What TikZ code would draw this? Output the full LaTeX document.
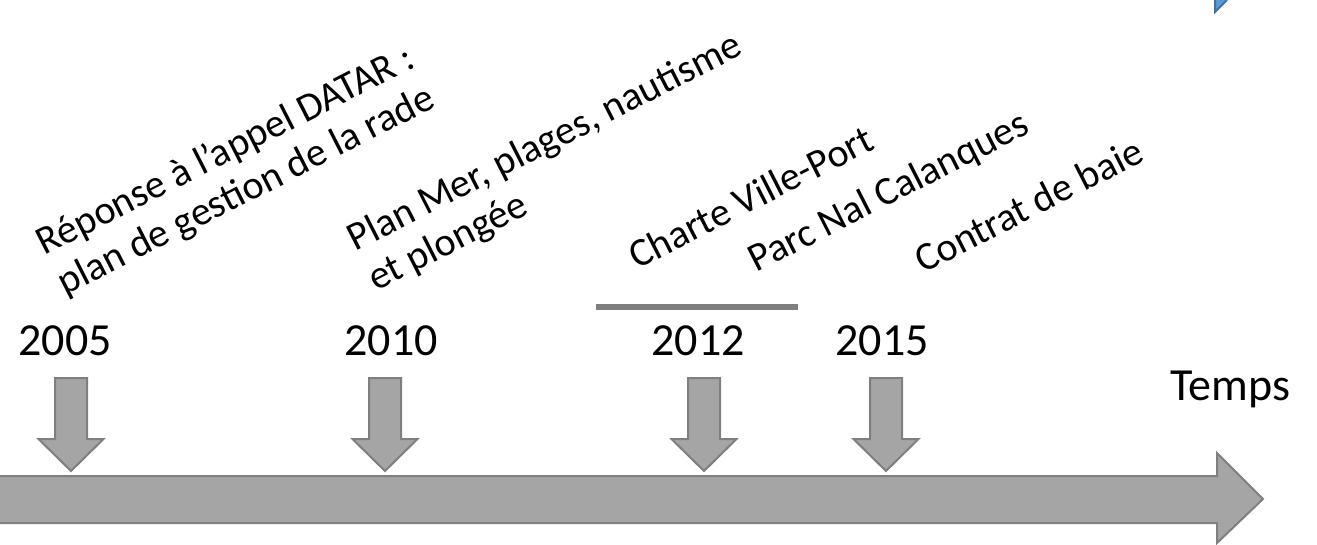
\documentclass[tikz,border=0pt]{standalone}
\usepackage{fontspec}
\setmainfont{Carlito}

\definecolor{arrowgray}{HTML}{A5A5A5}
\definecolor{edgegray}{HTML}{7F7F7F}
\definecolor{shapeblue}{HTML}{5B9BD5}
\definecolor{edgeblue}{HTML}{41719C}

\tikzset{
  year/.style={font=\fontsize{23}{27}\selectfont, anchor=base, inner sep=0pt},
  event/.style={font=\fontsize{20}{22.5}\selectfont, rotate=27, anchor=base west, inner sep=0pt, align=left},
  blockarrow/.style={fill=arrowgray, draw=edgegray, line width=1pt, line join=miter},
}

\begin{document}
\begin{tikzpicture}[x=0.5pt,y=0.5pt]
\useasboundingbox (0,0) rectangle (1317,-545);
% time axis
\draw[blockarrow] (-5,-476)--(1217,-476)--(1217,-453)--(1263,-499)--(1217,-543)--(1217,-523)--(-5,-523)--cycle;
\foreach \x in {71,385,704,886}
  \draw[blockarrow] (\x-16,-378)--(\x+16,-378)--(\x+16,-439)--(\x+32.5,-439)--(\x,-471)--(\x-32.5,-439)--(\x-16,-439)--cycle;
\node[year] (y2005) at (65,-355) {2005};
\node[year] (y2010) at (391,-355) {2010};
\node[year] (y2012) at (698,-355) {2012};
\node[year] (y2015) at (882,-355) {2015};
\node[year] (temps) at (1230,-400) {Temps};
\draw[edgegray, line width=3pt] (596,-307) -- (798,-307);
% events (base = last line)
\node[event] (datar) at (65,-296) {Réponse à l’appel DATAR :\\plan de gestion de la rade};
\node[event] (mer) at (376,-292) {Plan Mer, plages, nautisme\\et plongée};
\node[event] (charte) at (637,-270) {Charte Ville-Port};
\node[event] (parc) at (756,-273) {Parc Nal Calanques};
\node[event] (baie) at (923,-274) {Contrat de baie};
%\node at (1221,-5) {};
\fill[shapeblue] (1215,0)--(1227,0)--(1215,-12)--cycle;
\draw[edgeblue, line width=1pt] (1227,0)--(1215,-12)--(1215,0);
\end{tikzpicture}
\end{document}
